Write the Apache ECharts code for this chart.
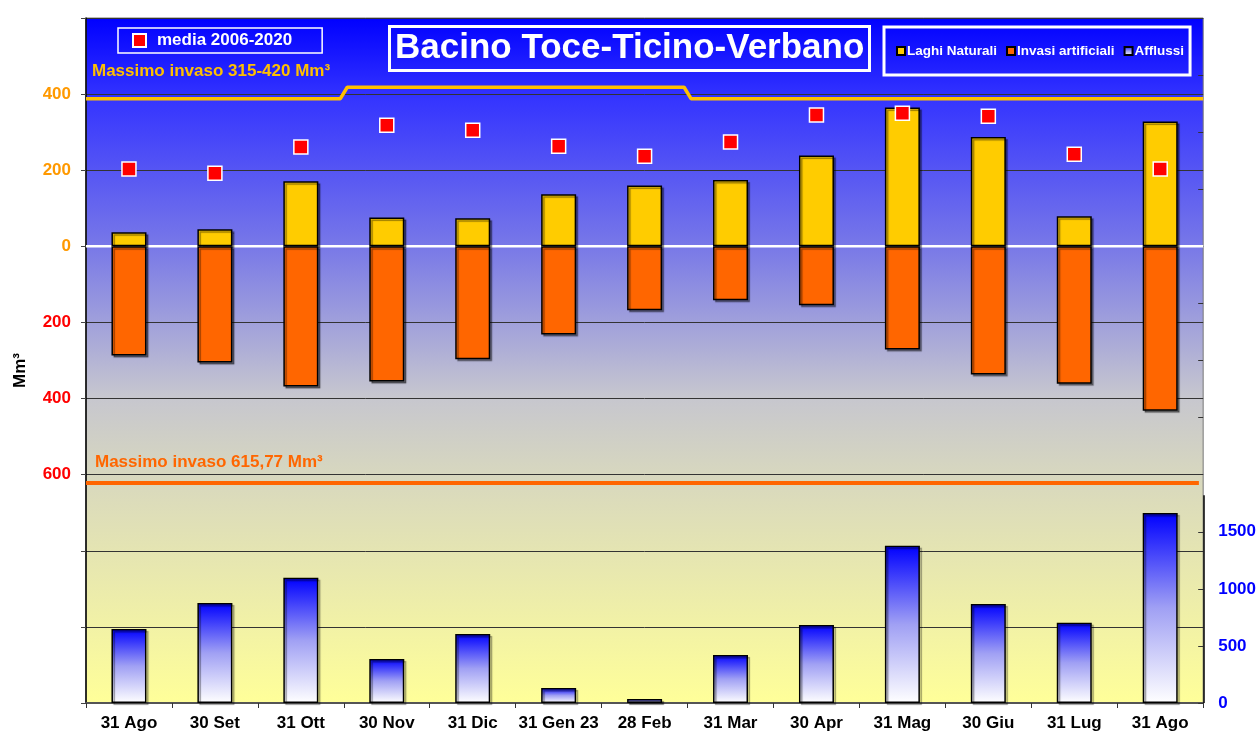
<!DOCTYPE html>
<html>
<head>
    <meta charset="utf-8">
    <title>Bacino Toce-Ticino-Verbano</title>
    <script src="https://cdn.jsdelivr.net/npm/echarts@6/dist/echarts.min.js"></script>
    <style>
        html, body { margin: 0; padding: 0; background: #fff; }
    </style>
</head>
<body>
<div id="main" style="width: 1259px;height:733px;"></div>
<script type="text/javascript">
    // dati
    var categorie = ['31 Ago', '30 Set', '31 Ott', '30 Nov', '31 Dic', '31 Gen 23', '28 Feb',
        '31 Mar', '30 Apr', '31 Mag', '30 Giu', '31 Lug', '31 Ago'];
    var laghiNaturali = [37, 45, 171, 76, 74, 137, 160, 174, 239, 365, 287, 79, 328];
    var invasiArtificiali = [-287, -305, -368, -355, -297, -232, -168, -142, -155, -271, -337, -361, -432];
    var media = [203, 192, 261, 318, 305, 263, 237, 274, 345, 350, 342, 242, 203];
    var afflussi = [649, 877, 1096, 386, 605, 132, 35, 421, 684, 1377, 868, 702, 1664];
    // linea "Massimo invaso 315-420" (x = posizione sulle categorie)
    var maxLaghiX = [0, 2.96, 3.04, 6.96, 7.04, 13];
    var maxLaghiY = [388, 388, 418, 418, 388, 388];
    var maxInvasi = -622;

    var font = 'Liberation Sans, Arial, sans-serif';
    var myChart = echarts.init(document.getElementById('main'));

    var stepData = [];
    for (var i = 0; i < maxLaghiX.length; i++) {
        stepData.push([maxLaghiX[i], maxLaghiY[i]]);
    }

    var barShadow = {
        shadowColor: 'rgba(0,0,0,0.4)',
        shadowOffsetX: 2,
        shadowOffsetY: 2,
        shadowBlur: 1
    };

    var option = {
        animation: false,
        textStyle: { fontFamily: font },
        title: {
            text: 'Bacino Toce-Ticino-Verbano',
            left: 389,
            top: 26,
            padding: [5, 5, 5, 6],
            borderColor: '#fff',
            borderWidth: 3,
            textStyle: { color: '#fff', fontSize: 35, fontWeight: 'bold', fontFamily: font }
        },
        legend: [{
            data: ['media 2006-2020'],
            left: 118,
            top: 28,
            padding: [4, 30, 4, 14],
            borderColor: '#fff',
            borderWidth: 1.5,
            itemWidth: 13,
            itemHeight: 13,
            icon: 'rect',
            textStyle: { color: '#fff', fontSize: 17, fontWeight: 'bold', fontFamily: font, padding: [0, 0, 0, 6] }
        }, {
            data: ['Laghi Naturali', 'Invasi artificiali', 'Afflussi'],
            left: 884,
            top: 27,
            padding: [17, 6, 17, 12],
            borderColor: '#fff',
            borderWidth: 3,
            itemWidth: 8,
            itemHeight: 8,
            itemGap: 9,
            icon: 'rect',
            textStyle: { color: '#fff', fontSize: 13.5, fontWeight: 'bold', fontFamily: font, padding: [0, 0, 0, -3] }
        }],
        grid: {
            left: 86,
            right: 55,
            top: 18,
            bottom: 30,
            show: true,
            borderColor: '#777',
            borderWidth: 1,
            backgroundColor: new echarts.graphic.LinearGradient(0, 0, 0, 1, [
                { offset: 0, color: '#0000ff' },
                { offset: 0.12, color: '#3535ff' },
                { offset: 0.33, color: '#7777e8' },
                { offset: 0.55, color: '#c6c6cf' },
                { offset: 0.68, color: '#d9d9bd' },
                { offset: 1, color: '#ffff99' }
            ])
        },
        xAxis: [{
            type: 'category',
            data: categorie,
            axisLine: { onZero: false, lineStyle: { color: '#555', width: 2 } },
            axisTick: { show: true, length: 5, lineStyle: { color: '#333' } },
            axisLabel: { color: '#000', fontSize: 17, fontWeight: 'bold', margin: 12, interval: 0 }
        }, {
            type: 'value',
            min: 0,
            max: 13,
            show: false
        }],
        yAxis: [{
            type: 'value',
            min: -1200,
            max: 600,
            interval: 200,
            name: 'Mm³',
            nameLocation: 'middle',
            nameGap: 57,
            nameTextStyle: { color: '#000', fontSize: 17, fontWeight: 'bold', padding: [0, 0, 0, -20] },
            axisLine: { show: true, lineStyle: { color: '#000', width: 1.5 } },
            axisTick: { show: true, length: 5, lineStyle: { color: '#444' } },
            axisLabel: {
                fontSize: 17,
                fontWeight: 'bold',
                margin: 15,
                formatter: function (v) {
                    if (v < -601 || v > 599) return '';
                    return String(Math.round(Math.abs(v)));
                },
                color: function (v) {
                    return Number(v) > -1 ? '#ff9900' : '#ff0000';
                }
            },
            splitLine: { show: true, lineStyle: { color: '#333', width: 1 } }
        }, {
            type: 'value',
            min: 0,
            max: 6000,
            interval: 500,
            position: 'right',
            axisLine: { show: false },
            axisTick: { show: true, inside: true, length: 5, lineStyle: { color: '#333' } },
            axisLabel: {
                color: '#0000ff',
                fontSize: 17,
                fontWeight: 'bold',
                margin: 15,
                formatter: function (v) { return v <= 1500 ? String(v) : ''; }
            },
            splitLine: { show: false }
        }],
        series: [{
            name: 'Afflussi',
            type: 'bar',
            yAxisIndex: 1,
            barWidth: 35,
            barGap: '-100%',
            data: afflussi,
            itemStyle: Object.assign({
                color: new echarts.graphic.LinearGradient(0, 0, 0, 1, [
                    { offset: 0, color: '#0000ff' },
                    { offset: 0.5, color: '#a0a0f4' },
                    { offset: 1, color: '#ffffff' }
                ]),
                borderColor: '#000',
                borderWidth: 1.5
            }, barShadow)
        }, {
            name: 'Laghi Naturali',
            type: 'bar',
            stack: 'volumi',
            barWidth: 35,
            data: laghiNaturali,
            itemStyle: Object.assign({ color: '#ffcc00', borderColor: '#000', borderWidth: 1.5 }, barShadow),
            z: 3
        }, {
            name: 'Invasi artificiali',
            type: 'bar',
            stack: 'volumi',
            barWidth: 35,
            data: invasiArtificiali,
            itemStyle: Object.assign({ color: '#ff6600', borderColor: '#000', borderWidth: 1.5 }, barShadow),
            z: 3
        }, {
            name: 'zero',
            type: 'line',
            xAxisIndex: 1,
            data: [[0, 0], [13, 0]],
            symbol: 'none',
            lineStyle: { color: '#fff', width: 2.5 },
            silent: true,
            z: 2
        }, {
            name: 'Massimo invaso 315-420',
            type: 'line',
            xAxisIndex: 1,
            data: stepData,
            symbol: 'none',
            lineStyle: { color: '#ffc000', width: 3.5 },
            silent: true,
            z: 4
        }, {
            name: 'Massimo invaso 615,77',
            type: 'line',
            xAxisIndex: 1,
            data: [[0, maxInvasi], [12.95, maxInvasi]],
            symbol: 'none',
            lineStyle: { color: '#ff6600', width: 4 },
            silent: true,
            z: 4
        }, {
            name: 'media 2006-2020',
            type: 'scatter',
            data: media,
            symbol: 'rect',
            symbolSize: 14,
            itemStyle: { color: '#ff0000', borderColor: '#fff', borderWidth: 1.5, opacity: 1 },
            z: 6
        }],
        graphic: [{
            type: 'text',
            left: 92,
            top: 63,
            style: { text: 'Massimo invaso 315-420 Mm³', fill: '#ffc000', fontSize: 17, fontWeight: 'bold', fontFamily: font }
        }, {
            type: 'text',
            left: 95,
            top: 454,
            style: { text: 'Massimo invaso 615,77 Mm³', fill: '#ff6600', fontSize: 17, fontWeight: 'bold', fontFamily: font }
        }]
    };

    myChart.setOption(option);

    // asse destro visibile solo nella parte bassa
    var p0 = myChart.convertToPixel({ yAxisIndex: 1 }, 0);
    var p1 = myChart.convertToPixel({ yAxisIndex: 1 }, 1820);
    var xr = myChart.getWidth() - 55;
    myChart.setOption({
        graphic: [{}, {}, {
            type: 'line',
            shape: { x1: xr, y1: p0, x2: xr, y2: p1 },
            style: { stroke: '#000', lineWidth: 1.5 },
            z: 10
        }]
    });
</script>
</body>
</html>
